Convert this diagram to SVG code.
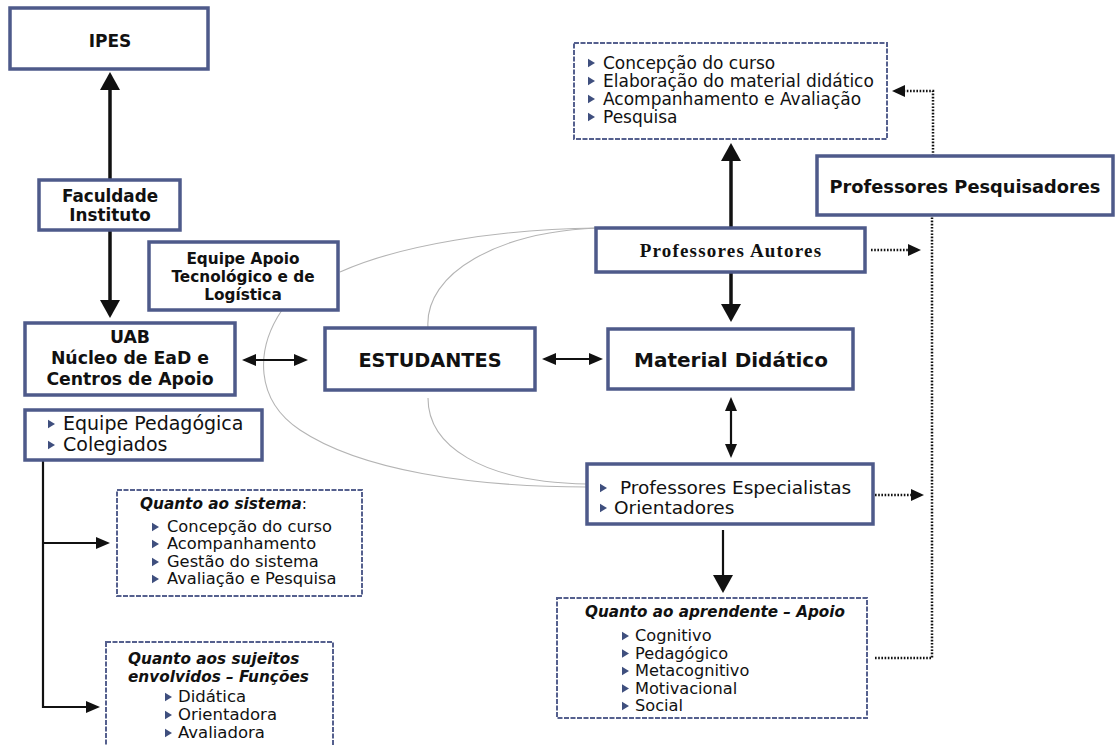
<svg xmlns="http://www.w3.org/2000/svg" xmlns:xlink="http://www.w3.org/1999/xlink" width="1115" height="746" viewBox="0 0 1115 746">
<style>
.box{fill:#fff;stroke:#4e5a8a;stroke-width:3.5}
.dbox{fill:#fff;stroke:#55608e;stroke-width:2;stroke-dasharray:5 1.5}
.t{font-family:"DejaVu Sans",Verdana,sans-serif;fill:#111}
.b{font-weight:bold}
.bi{font-weight:bold;font-style:italic}
.c{text-anchor:middle}
.ser{font-family:"Liberation Serif","Times New Roman",serif;font-weight:bold;fill:#111}
.thick{stroke:#111;stroke-width:3.5;fill:none}
.med{stroke:#111;stroke-width:2.2;fill:none}
.dot{stroke:#111;stroke-width:2.5;fill:none;stroke-dasharray:1.6 1.6}
.curve{stroke:#b4b4b4;stroke-width:1.1;fill:none}
.bul{fill:#3f4f7e}
</style>
<defs>
<marker id="ah" viewBox="0 0 18 20" refX="3" refY="10" markerWidth="18" markerHeight="20" markerUnits="userSpaceOnUse" orient="auto-start-reverse"><path d="M0,0 L18,10 L0,20 z" fill="#111"/></marker>
<marker id="am" viewBox="0 0 14 12" refX="3" refY="6" markerWidth="14" markerHeight="12" markerUnits="userSpaceOnUse" orient="auto-start-reverse"><path d="M0,0 L14,6 L0,12 z" fill="#111"/></marker>
<marker id="ad" viewBox="0 0 13 12" refX="2" refY="6" markerWidth="13" markerHeight="12" markerUnits="userSpaceOnUse" orient="auto-start-reverse"><path d="M0,0 L13,6 L0,12 z" fill="#111"/></marker>
<polygon id="bl" class="bul" points="0,-4.2 7,0 0,4.2"/>
</defs>
<rect width="1115" height="746" fill="#fff"/>

<g id="connectors">
<path class="curve" d="M340,272 C400,245 500,229 597,228"/>
<path class="curve" d="M428,328 C424,272 500,232 597,228"/>
<path class="curve" d="M282,310 C255,350 255,400 300,430 C360,470 470,487 587,487"/>
<path class="curve" d="M428,398 C428,445 480,482 587,484"/>
<line class="thick" x1="110" y1="180" x2="110" y2="87" marker-end="url(#ah)"/>
<line class="thick" x1="110" y1="230" x2="110" y2="303" marker-end="url(#ah)"/>
<line class="med" x1="253" y1="360" x2="297" y2="360" marker-start="url(#am)" marker-end="url(#am)"/>
<line class="med" x1="553" y1="359" x2="592" y2="359" marker-start="url(#am)" marker-end="url(#am)"/>
<line class="thick" x1="731" y1="228" x2="731" y2="158" marker-end="url(#ah)"/>
<line class="thick" x1="731" y1="272" x2="731" y2="307" marker-end="url(#ah)"/>
<line class="med" x1="731" y1="408" x2="731" y2="447" stroke-width="2.5" marker-start="url(#am)" marker-end="url(#am)"/>
<line class="med" x1="723" y1="530" x2="723" y2="578" stroke-width="2.8" marker-end="url(#ah)"/>
<path class="med" d="M43,460 V707 H89" marker-end="url(#am)"/>
<path class="med" d="M43,543 H99" marker-end="url(#am)"/>
<path class="dot" d="M871,250 H910" marker-end="url(#ad)"/>
<path class="dot" d="M875,495 H913" marker-end="url(#ad)"/>
<path class="dot" d="M875,658 H932 V215"/>
<path class="dot" d="M933,156 V91 H903" marker-end="url(#ad)"/>
</g>

<g id="ipes"><rect class="box" x="10" y="8" width="198" height="61"/><text class="t b c" x="110" y="47" font-size="17">IPES</text></g>

<g id="faculdade"><rect class="box" x="39" y="180" width="141" height="50"/>
<text class="t b c" x="110" y="202" font-size="16.8">Faculdade</text>
<text class="t b c" x="110" y="221" font-size="16.8">Instituto</text></g>

<g id="equipe-apoio"><rect class="box" x="149" y="242" width="189" height="68"/>
<text class="t b c" x="243" y="264" font-size="15.3">Equipe Apoio</text>
<text class="t b c" x="243" y="282" font-size="15.3">Tecnológico e de</text>
<text class="t b c" x="243" y="300" font-size="15.3">Logística</text></g>

<g id="uab"><rect class="box" x="25" y="323" width="210" height="72"/>
<text class="t b c" x="130" y="343" font-size="17.3">UAB</text>
<text class="t b c" x="130" y="364" font-size="17.3">Núcleo de EaD e</text>
<text class="t b c" x="130" y="385" font-size="17.3">Centros de Apoio</text></g>

<g id="equipe-pedagogica"><rect class="box" x="25" y="410" width="237" height="50"/>
<use href="#bl" x="48" y="424"/><text class="t" x="63" y="430" font-size="19">Equipe Pedagógica</text>
<use href="#bl" x="48" y="445"/><text class="t" x="63" y="451" font-size="19">Colegiados</text></g>

<g id="quanto-sistema"><rect class="dbox" x="117" y="490" width="245" height="106"/>
<text class="t" x="140" y="509" font-size="15.3"><tspan class="bi">Quanto ao sistema</tspan>:</text>
<use href="#bl" x="152" y="527"/><text class="t" x="167" y="532" font-size="16.3">Concepção do curso</text>
<use href="#bl" x="152" y="544"/><text class="t" x="167" y="549" font-size="16.3">Acompanhamento</text>
<use href="#bl" x="152" y="562"/><text class="t" x="167" y="567" font-size="16.3">Gestão do sistema</text>
<use href="#bl" x="152" y="579"/><text class="t" x="167" y="584" font-size="16.3">Avaliação e Pesquisa</text></g>

<g id="quanto-sujeitos"><rect class="dbox" x="106" y="642" width="227" height="120"/>
<text class="t bi" x="128" y="664" font-size="15.3">Quanto aos sujeitos</text>
<text class="t bi" x="128" y="682" font-size="15.3">envolvidos – Funções</text>
<use href="#bl" x="165" y="697"/><text class="t" x="178" y="702" font-size="16.5">Didática</text>
<use href="#bl" x="165" y="715"/><text class="t" x="178" y="720" font-size="16.5">Orientadora</text>
<use href="#bl" x="165" y="733"/><text class="t" x="178" y="738" font-size="16.5">Avaliadora</text></g>

<g id="estudantes"><rect class="box" x="325" y="328" width="210" height="62"/>
<text class="t b c" x="430" y="367" font-size="19.3">ESTUDANTES</text></g>

<g id="material"><rect class="box" x="608" y="329" width="245" height="60"/>
<text class="t b c" x="731" y="367" font-size="20">Material Didático</text></g>

<g id="prof-autores"><rect class="box" x="596" y="228" width="269" height="44"/>
<text class="ser c" x="731" y="257" font-size="19" letter-spacing="1.2">Professores Autores</text></g>

<g id="atribuicoes"><rect class="dbox" x="574" y="43" width="313" height="96"/>
<use href="#bl" x="588" y="63"/><text class="t" x="603" y="69" font-size="17">Concepção do curso</text>
<use href="#bl" x="588" y="81"/><text class="t" x="603" y="87" font-size="17">Elaboração do material didático</text>
<use href="#bl" x="588" y="99"/><text class="t" x="603" y="105" font-size="17">Acompanhamento e Avaliação</text>
<use href="#bl" x="588" y="117"/><text class="t" x="603" y="123" font-size="17">Pesquisa</text></g>

<g id="prof-pesquisadores"><rect class="box" x="817" y="156" width="296" height="59"/>
<text class="t b c" x="965" y="193" font-size="17.8">Professores Pesquisadores</text></g>

<g id="prof-especialistas"><rect class="box" x="587" y="464" width="286" height="60"/>
<use href="#bl" x="600" y="488"/><text class="t" x="620" y="494" font-size="18.5">Professores Especialistas</text>
<use href="#bl" x="600" y="508"/><text class="t" x="614" y="514" font-size="18.5">Orientadores</text></g>

<g id="quanto-aprendente"><rect class="dbox" x="557" y="598" width="310" height="120"/>
<text class="t bi" x="585" y="617" font-size="15.2">Quanto ao aprendente – Apoio</text>
<use href="#bl" x="622" y="636"/><text class="t" x="635" y="641" font-size="16.2">Cognitivo</text>
<use href="#bl" x="622" y="653.5"/><text class="t" x="635" y="658.5" font-size="16.2">Pedagógico</text>
<use href="#bl" x="622" y="671"/><text class="t" x="635" y="676" font-size="16.2">Metacognitivo</text>
<use href="#bl" x="622" y="688.5"/><text class="t" x="635" y="693.5" font-size="16.2">Motivacional</text>
<use href="#bl" x="622" y="706"/><text class="t" x="635" y="711" font-size="16.2">Social</text></g>
</svg>
